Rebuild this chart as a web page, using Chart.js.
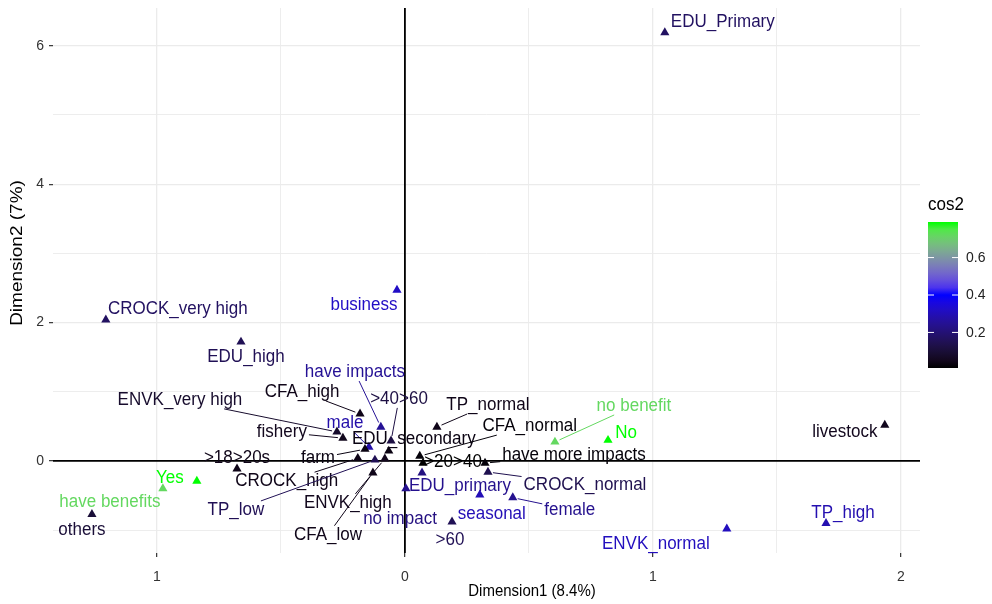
<!DOCTYPE html>
<html lang="en">
<head>
<meta charset="UTF-8">
<title>MCA - variable categories</title>
<style>
  body { margin: 0; padding: 0; background: #fff; }
  .container { width: 992px; height: 604px; }
</style>
<script src="https://cdn.jsdelivr.net/npm/chart.js"></script>
</head>
<body>
<div class="container"><canvas id="mcaChart"></canvas></div>
<script>
// category coordinates
const categories = ['EDU_Primary', 'CROCK_very high', 'business', 'EDU_high', 'have impacts', 'CFA_high',
  'ENVK_very high', 'fishery', 'male', '>40>60', 'EDU_secondary', 'farm', 'CROCK_high', 'TP_low',
  'ENVK_high', 'CFA_low', '>18>20s', 'TP_normal', 'CFA_normal', '>20>40', 'no impact', 'EDU_primary',
  'have more impacts', 'CROCK_normal', 'seasonal', 'female', '>60', 'no benefit', 'No', 'livestock',
  'TP_high', 'ENVK_normal', 'Yes', 'have benefits', 'others'];
const dim1 = [1.048, -1.206, -0.032, -0.661, -0.097, -0.181, -0.274, -0.250, -0.145, -0.056, -0.065, -0.161,
  -0.190, -0.121, -0.081, -0.129, -0.677, 0.129, 0.060, 0.073, 0.069, 0.004, 0.323, 0.335, 0.302, 0.435,
  0.190, 0.605, 0.819, 1.935, 1.698, 1.298, -0.839, -0.976, -1.262];
const dim2 = [6.19, 2.04, 2.47, 1.72, 0.49, 0.68, 0.42, 0.33, 0.20, 0.29, 0.145, 0.17, 0.04, 0.015, 0.03,
  -0.17, -0.115, 0.49, 0.07, -0.03, -0.17, -0.40, -0.03, -0.16, -0.49, -0.53, -0.88, 0.275, 0.30, 0.52,
  -0.90, -0.98, -0.29, -0.40, -0.77];
const cos2 = [0.17, 0.17, 0.32, 0.15, 0.25, 0.04, 0.08, 0.05, 0.28, 0.12, 0.03, 0.03, 0.04, 0.15, 0.05,
  0.04, 0.04, 0.04, 0.02, 0.01, 0.22, 0.24, 0.02, 0.14, 0.30, 0.24, 0.15, 0.72, 0.79, 0.05, 0.29, 0.31,
  0.79, 0.72, 0.10];

const xTickValues = [-1, 0, 1, 2];
const xTickLabels = ['1', '0', '1', '2'];
const yTickValues = [0, 2, 4, 6];
const yTickLabels = ['0', '2', '4', '6'];
const legendTickValues = [0.2, 0.4, 0.6];
const legendTickLabels = ['0.2', '0.4', '0.6'];

// label placement: pixel offset of label centre from its point, and whether a segment is drawn
const labelDx = [58, 72, -33, 5, -26, -58, -157, -61, -24, 8, 25, -47, -71, -139, -37, -45, 0, 51, 110, 30,
  -22, 54, 89, 97, 12, 57, -2, 79, 18, -40, 17, -71, -27, -53, -10];
const labelDy = [-11, -11, 15, 15, -55, -22, -32, -6, -24, -42, -12, 9, 23, 50, 44, 62, -11, -22, -30, -1,
  46, -3, -8, 13, 19, 12, 18, -36, -7, 7, -10, 15, -3, 13, 16];
const labelLine = [0, 0, 0, 0, 1, 1, 1, 1, 1, 1, 0, 1, 1, 1, 1, 1, 0, 1, 1, 0, 0, 0, 1, 1, 0, 1, 0, 1, 0, 0,
  0, 0, 0, 0, 0];

const FONT = '"Liberation Sans", Arial, sans-serif';

// black -> blue -> green, interpolated in Lab like ggplot
function toLab(rgb) {
  const lin = rgb.map(c => { c /= 255; return c <= 0.04045 ? c / 12.92 : Math.pow((c + 0.055) / 1.055, 2.4); });
  const X = (0.4124 * lin[0] + 0.3576 * lin[1] + 0.1805 * lin[2]) / 0.95047;
  const Y = 0.2126 * lin[0] + 0.7152 * lin[1] + 0.0722 * lin[2];
  const Z = (0.0193 * lin[0] + 0.1192 * lin[1] + 0.9505 * lin[2]) / 1.08883;
  const f = t => t > 0.008856 ? Math.cbrt(t) : 7.787 * t + 16 / 116;
  return [116 * f(Y) - 16, 500 * (f(X) - f(Y)), 200 * (f(Y) - f(Z))];
}
function fromLab(lab) {
  const fy = (lab[0] + 16) / 116, fx = fy + lab[1] / 500, fz = fy - lab[2] / 200;
  const g = t => t > 0.206893 ? t * t * t : (t - 16 / 116) / 7.787;
  const X = g(fx) * 0.95047, Y = g(fy), Z = g(fz) * 1.08883;
  const lin = [3.2406 * X - 1.5372 * Y - 0.4986 * Z, -0.9689 * X + 1.8758 * Y + 0.0415 * Z,
    0.0557 * X - 0.2040 * Y + 1.0570 * Z];
  return lin.map(c => {
    c = c <= 0.0031308 ? 12.92 * c : 1.055 * Math.pow(c, 1 / 2.4) - 0.055;
    return Math.round(Math.min(1, Math.max(0, c)) * 255);
  });
}
const stops = [[0, 0, 0], [0, 0, 255], [0, 255, 0]].map(toLab);
const cosMin = Math.min(...cos2), cosMax = Math.max(...cos2);
function cosColor(v) {
  let t = (v - cosMin) / (cosMax - cosMin);
  t = Math.min(1, Math.max(0, t)) * 2;
  const i = Math.min(1, Math.floor(t));
  const u = t - i;
  const lab = stops[i].map((c, k) => c + (stops[i + 1][k] - c) * u);
  const rgb = fromLab(lab);
  return `rgb(${rgb[0]},${rgb[1]},${rgb[2]})`;
}
const colors = cos2.map(cosColor);

// text drawn a little taller than wide, like the reference
function stretchedText(ctx, text, x, y, sy) {
  ctx.save();
  ctx.translate(x, y);
  ctx.scale(1, sy);
  ctx.fillText(text, 0, 0);
  ctx.restore();
}

// zero lines, labels with repel-style segments, colour bar legend, axis titles
const mcaPlugin = {
  id: 'mcaExtras',
  beforeDatasetsDraw(chart) {
    const { ctx, chartArea: a, scales: { x, y } } = chart;
    ctx.save();
    ctx.strokeStyle = '#000';
    ctx.lineWidth = 1.8;
    ctx.beginPath();
    const y0 = y.getPixelForValue(0), x0 = x.getPixelForValue(0);
    ctx.moveTo(a.left, y0); ctx.lineTo(a.right, y0);
    ctx.moveTo(x0, a.top); ctx.lineTo(x0, a.bottom);
    ctx.stroke();
    ctx.restore();
  },
  afterDatasetsDraw(chart) {
    const { ctx } = chart;
    const meta = chart.getDatasetMeta(0);
    ctx.save();
    ctx.font = `17px ${FONT}`;
    ctx.textAlign = 'center';
    ctx.textBaseline = 'middle';
    meta.data.forEach((pt, i) => {
      const lx = pt.x + labelDx[i], ly = pt.y + labelDy[i];
      if (labelLine[i]) {
        const w = ctx.measureText(categories[i]).width / 2 + 2, h = 9;
        const dx = pt.x - lx, dy = pt.y - ly;
        const s = Math.min(Math.abs(dx) > 0 ? w / Math.abs(dx) : 1e9, Math.abs(dy) > 0 ? h / Math.abs(dy) : 1e9);
        const len = Math.hypot(dx, dy);
        const e = 1 - 5 / len;
        if (e > s) {
          ctx.strokeStyle = colors[i];
          ctx.lineWidth = 1;
          ctx.beginPath();
          ctx.moveTo(lx + dx * s, ly + dy * s);
          ctx.lineTo(lx + dx * e, ly + dy * e);
          ctx.stroke();
        }
      }
      ctx.fillStyle = colors[i];
      stretchedText(ctx, categories[i], lx, ly, 1.1);
    });
    ctx.restore();
  },
  afterDraw(chart) {
    const { ctx } = chart;
    ctx.save();
    // axis titles
    ctx.fillStyle = '#000';
    ctx.font = `15px ${FONT}`;
    ctx.textAlign = 'center';
    ctx.textBaseline = 'middle';
    stretchedText(ctx, 'Dimension1 (8.4%)', 532, 591, 1.1);
    ctx.save();
    ctx.translate(18, 253);
    ctx.rotate(-Math.PI / 2);
    ctx.font = `19px ${FONT}`;
    ctx.scale(1, 0.85);
    ctx.fillText('Dimension2 (7%)', 0, 0);
    ctx.restore();
    // colour bar
    const bx = 928, bw = 30, bTop = 222, bBot = 368;
    const grad = ctx.createLinearGradient(0, bBot, 0, bTop);
    for (let k = 0; k <= 20; k++) {
      grad.addColorStop(k / 20, cosColor(cosMin + (cosMax - cosMin) * k / 20));
    }
    ctx.fillStyle = grad;
    ctx.fillRect(bx, bTop, bw, bBot - bTop);
    ctx.font = `17px ${FONT}`;
    ctx.fillStyle = '#000';
    ctx.textAlign = 'left';
    stretchedText(ctx, 'cos2', bx, 205, 1.1);
    ctx.font = `14px ${FONT}`;
    ctx.fillStyle = '#222';
    legendTickValues.forEach((v, k) => {
      const py = bBot - (v - cosMin) / (cosMax - cosMin) * (bBot - bTop);
      ctx.strokeStyle = '#fff';
      ctx.lineWidth = 1;
      ctx.beginPath();
      ctx.moveTo(bx, py); ctx.lineTo(bx + 6, py);
      ctx.moveTo(bx + bw - 6, py); ctx.lineTo(bx + bw, py);
      ctx.stroke();
      stretchedText(ctx, legendTickLabels[k], bx + bw + 8, py, 1.1);
    });
    ctx.restore();
  }
};

function isMajor(values, v) { return values.some(t => Math.abs(t - v) < 1e-9); }

const ctx = document.getElementById('mcaChart').getContext('2d');
new Chart(ctx, {
  type: 'scatter',
  data: {
    datasets: [{
      data: dim1.map((v, i) => ({ x: v, y: dim2[i] })),
      pointStyle: 'triangle',
      pointRadius: 5.3,
      pointBorderWidth: 0,
      pointBackgroundColor: colors,
      pointBorderColor: colors
    }]
  },
  options: {
    responsive: true,
    maintainAspectRatio: false,
    animation: false,
    layout: { padding: { top: 8, right: 72, left: 0, bottom: 0 } },
    plugins: { legend: { display: false }, tooltip: { enabled: false } },
    scales: {
      x: {
        type: 'linear',
        min: -1.419,
        max: 2.077,
        afterBuildTicks: scale => {
          scale.ticks = [-1, -0.5, 0, 0.5, 1, 1.5, 2].map(v => ({ value: v }));
        },
        afterFit: scale => { scale.height = 51; scale.paddingLeft = 0; scale.paddingRight = 0; },
        border: { display: false },
        grid: {
          color: '#ebebeb',
          lineWidth: c => isMajor(xTickValues, c.tick.value) ? 1.3 : 0.9,
          tickColor: c => isMajor(xTickValues, c.tick.value) ? '#333' : 'rgba(0,0,0,0)',
          tickLength: 4,
          tickWidth: 1.2
        },
        ticks: {
          autoSkip: false,
          maxRotation: 0,
          padding: 12,
          color: '#333',
          font: { family: FONT, size: 14 },
          callback: v => {
            const k = xTickValues.findIndex(t => Math.abs(t - v) < 1e-9);
            return k >= 0 ? xTickLabels[k] : '';
          }
        }
      },
      y: {
        type: 'linear',
        min: -1.33,
        max: 6.546,
        afterBuildTicks: scale => {
          scale.ticks = [-1, 0, 1, 2, 3, 4, 5, 6].map(v => ({ value: v }));
        },
        afterFit: scale => { scale.width = 53; scale.paddingTop = 0; scale.paddingBottom = 0; },
        border: { display: false },
        grid: {
          color: '#ebebeb',
          lineWidth: c => isMajor(yTickValues, c.tick.value) ? 1.3 : 0.9,
          tickColor: c => isMajor(yTickValues, c.tick.value) ? '#333' : 'rgba(0,0,0,0)',
          tickLength: 4,
          tickWidth: 1.2
        },
        ticks: {
          autoSkip: false,
          padding: 5,
          color: '#333',
          font: { family: FONT, size: 14 },
          callback: v => {
            const k = yTickValues.findIndex(t => Math.abs(t - v) < 1e-9);
            return k >= 0 ? yTickLabels[k] : '';
          }
        }
      }
    }
  },
  plugins: [mcaPlugin]
});
</script>
</body>
</html>
